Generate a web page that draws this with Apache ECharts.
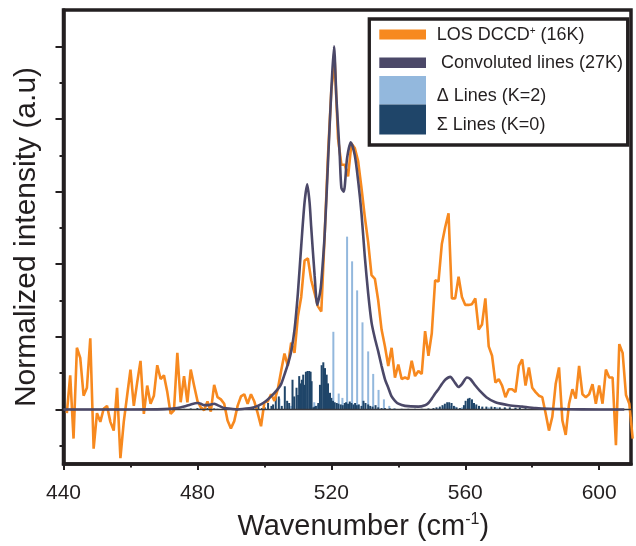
<!DOCTYPE html>
<html><head><meta charset="utf-8">
<script src="https://cdn.jsdelivr.net/npm/echarts@6/dist/echarts.min.js"></script>
<style>html,body{margin:0;padding:0;background:#fff}#c{width:636px;height:546px}</style>
</head><body><div id="c"></div>
<script>
// ---------------- DATA ----------------
const seriesNames = ['LOS DCCD+ (16K)', 'Convoluted lines (27K)', 'Δ Lines (K=2)', 'Σ Lines (K=0)'];
const xTitle = 'Wavenumber (cm-1)';
const yTitle = 'Normalized intensity (a.u)';
const xMajorTicks = [440, 480, 520, 560, 600];
const xMinorTicks = [460, 500, 540, 580];
const yMajorTicks = [0, 1, 2, 3, 4, 5];
const yMinorTicks = [-0.5, 0.5, 1.5, 2.5, 3.5, 4.5];

// LOS DCCD+ spectrum (orange)
const losX = [441,442,443,444,445,446,447,448,449,450,451,452,453,454,455,456,457,458,459,460,
  461,462,463,464,465,466,467,468,469,470,471,472,473,474,475,476,477,478,479,480,
  481,482,483,484,485,486,487,488,489,490,491,492,493,494,495,496,497,498,499,500,
  501,502,503,504,505,506,507,508,509,510,511,512,513,514,515,516,517,518,519,520,
  521,522,523,524,525,526,527,528,529,530,531,532,533,534,535,536,537,538,539,540,
  541,542,543,544,545,546,547,548,549,550,551,552,553,554,555,556,557,558,559,560,
  561,562,563,564,565,566,567,568,569,570,571,572,573,574,575,576,577,578,579,580,
  581,582,583,584,585,586,587,588,589,590,591,592,593,594,595,596,597,598,599,600,
  601,602,603,604,605,606,607,608,609,610];
const losY = [-0.05,0.47,-0.40,0.85,0.71,0.19,0.30,0.98,-0.54,-0.05,-0.17,0.01,0.05,-0.17,-0.29,0.30,-0.67,-0.17,0.19,0.55,
  0.05,0.37,0.67,-0.06,0.33,0.08,0.19,0.61,0.42,0.47,0.24,-0.06,-0.01,0.78,0.10,0.46,0.10,0.55,0.33,0.12,
  0.03,-0.01,0.11,-0.03,0.34,0.17,0.14,0.08,-0.15,-0.26,-0.16,0.05,0.18,0.21,0.08,0.21,0.11,-0.05,-0.23,0.10,
  0.11,0.21,0.12,0.28,0.53,0.77,0.60,0.92,0.78,1.28,1.55,2.05,2.08,1.78,1.60,1.42,1.35,2.40,3.50,4.40,
  4.80,3.73,3.37,3.37,3.21,3.66,3.60,3.42,3.05,2.65,2.30,1.85,1.80,1.50,1.10,0.87,0.60,0.85,0.44,0.62,
  0.42,0.44,0.42,0.67,0.46,0.53,0.49,1.08,0.74,1.05,1.78,1.76,2.28,2.51,2.70,1.53,1.53,1.83,1.55,1.44,
  1.44,1.45,1.53,1.10,1.17,1.53,0.87,0.74,0.37,0.42,0.33,0.17,0.28,0.28,0.24,0.60,0.69,0.33,0.58,0.30,
  0.24,0.19,0.17,-0.05,-0.29,-0.10,0.35,0.58,-0.15,-0.35,0.08,0.28,0.15,0.60,0.21,0.17,0.21,0.35,0.08,0.33,
  0.08,0.55,0.44,0.44,-0.49,0.90,0.78,0.20,0.08,-0.40];

// Convoluted lines (dark line)
const convX = [440,450,460,470,474,476,478,480,481,482,483,484,485,486,487,488,490,492,494,496,498,500,502,504,
  505,506,507,508,509,510,511,512,512.8,513.5,514,515,515.8,516.6,517,518,519,520,520.8,521.5,522,522.5,523,523.7,
  524.7,525.8,527,528,529,530,531,532,533,534,535,536,537,538,539,540,542,546,548,549,550,551,552,553,
  554,555.5,556.9,558,559,560.5,561.5,563,564.3,566.3,569,573,577,581,585,590,600,607.5];
const convY = [0,0,0,0.005,0.02,0.04,0.07,0.09,0.08,0.06,0.06,0.07,0.08,0.06,0.04,0.02,0.01,0.0,0.01,0.02,0.05,0.10,0.18,0.28,
  0.35,0.48,0.62,0.80,1.10,1.60,2.25,2.85,3.10,2.85,2.50,1.85,1.44,1.60,1.75,2.40,3.40,4.40,5.00,4.30,3.90,3.50,3.05,3.00,
  3.46,3.68,3.50,3.15,2.70,2.10,1.60,1.20,0.98,0.80,0.60,0.42,0.30,0.18,0.12,0.08,0.05,0.04,0.06,0.09,0.15,0.22,0.28,0.35,
  0.41,0.45,0.37,0.31,0.35,0.44,0.42,0.33,0.26,0.17,0.10,0.06,0.04,0.02,0.01,0.005,0,0];

// Δ lines (K=2)
const deltaX = [496,500,504.5,508,512.2,514.9,516,518.5,520.6,522.2,523.3,524.7,526.2,527.7,529.3,531.0,532.5,534.1,535.7,537.3,
  538.8,552.0,553.6,555.5,557,559,561,563,565,567,569.5,572,575];
const deltaY = [0.02,0.03,0.15,0.05,0.06,0.10,0.06,0.10,1.07,0.22,0.16,2.38,2.04,1.64,1.20,0.80,0.49,0.27,0.14,0.05,
  0.02,0.02,0.04,0.05,0.04,0.03,0.05,0.04,0.03,0.03,0.03,0.02,0.02];

// Σ lines (K=0)
const sigmaX = [476,478,480,481,482,483,484,485,486,488,490,492,494,496.7,498.2,499.3,500.1,501.1,502.1,502.6,
  503.4,504.3,505.2,506.1,506.8,507.4,508.4,508.9,509.6,510.1,510.4,510.8,511.2,511.6,511.9,512.4,512.9,513.4,513.8,514.1,
  514.6,515.0,515.4,516.1,516.6,517.1,517.6,518.1,518.6,519.0,519.6,520.0,520.5,521.0,521.6,522.1,522.8,523.4,524.0,524.4,
  525.0,525.5,526.0,526.6,527.1,527.6,528.2,529.0,529.6,530.2,531.0,531.6,532.3,533.2,534.0,535.0,536.0,537.5,539,541,
  543,545,547,549,550.5,551.4,552.4,553.2,553.9,554.6,555.2,555.9,556.6,557.4,558.4,559.6,560.1,560.8,561.3,562.0,
  562.6,563.3,564.1,565.1,566.3,567.8,568.8,570.3,571.8,573.3,575,576.3,578,580];
const sigmaY = [0.01,0.015,0.02,0.02,0.015,0.02,0.02,0.015,0.01,0.01,0.01,0.01,0.01,0.02,0.05,0.02,0.03,0.09,0.05,0.07,
  0.18,0.18,0.05,0.32,0.12,0.09,0.41,0.18,0.30,0.20,0.46,0.36,0.41,0.48,0.34,0.52,0.53,0.53,0.52,0.39,
  0.03,0.04,0.05,0.09,0.34,0.61,0.65,0.57,0.48,0.36,0.23,0.16,0.12,0.10,0.09,0.08,0.07,0.06,0.09,0.10,
  0.08,0.11,0.09,0.07,0.09,0.06,0.07,0.05,0.12,0.09,0.07,0.05,0.04,0.06,0.03,0.02,0.02,0.015,0.01,0.01,
  0.01,0.01,0.01,0.015,0.02,0.03,0.04,0.06,0.08,0.10,0.10,0.09,0.05,0.03,0.02,0.06,0.12,0.15,0.16,0.14,
  0.09,0.07,0.05,0.04,0.04,0.04,0.035,0.03,0.03,0.03,0.025,0.03,0.02,0.015];

// ---------------- STYLE ----------------
const INK = '#231f20';
const ORANGE = '#f7891f';
const CONV = '#4b4868';
const LIGHT = '#93b8dd';
const DARK = '#1f4569';
const FONT = '"Liberation Sans", Arial, Helvetica, sans-serif';

const zip = (xs, ys) => xs.map((x, i) => [x, ys[i]]);

const chart = echarts.init(document.getElementById('c'), null, {renderer: 'canvas'});

const legendTexts = [
  '{a|LOS DCCD}{s|+}{a| (16K)}',
  '{a|' + seriesNames[1] + '}',
  '{a|' + seriesNames[2] + '}',
  '{a|' + seriesNames[3] + '}'
];
const richLeg = {
  a: {fontSize: 18, fontFamily: FONT, fill: INK, color: INK},
  s: {fontSize: 10, fontFamily: FONT, fill: INK, color: INK, verticalAlign: 'top'}
};

const option = {
  animation: false,
  backgroundColor: '#ffffff',
  grid: {left: 63.5, right: 5, top: 10, bottom: 76.7, show: true, borderColor: INK, borderWidth: 3.5, backgroundColor: 'transparent'},
  xAxis: [{
    type: 'value', min: 440, max: 609.5, position: 'bottom',
    axisLine: {show: true, onZero: false, lineStyle: {color: INK, width: 3.5}},
    axisTick: {show: true, customValues: xMajorTicks, length: 6, lineStyle: {color: INK, width: 2}},
    axisLabel: {show: true, customValues: xMajorTicks, fontSize: 21, color: INK, fontFamily: FONT, margin: 19},
    splitLine: {show: false},
    name: '{a|Wavenumber (cm}{s|-1}{a|)}',
    nameLocation: 'middle', nameGap: 48,
    nameTextStyle: {
      padding: [0, 0, 0, 32],
      rich: {
        a: {fontSize: 29, fontFamily: FONT, color: INK},
        s: {fontSize: 16, fontFamily: FONT, color: INK, verticalAlign: 'top'}
      }
    }
  }, {
    type: 'value', min: 440, max: 609.5, position: 'bottom',
    axisLine: {show: false, onZero: false},
    axisTick: {show: true, customValues: xMinorTicks, length: 3.5, lineStyle: {color: INK, width: 2}},
    axisLabel: {show: false},
    splitLine: {show: false}
  }],
  yAxis: [{
    type: 'value', min: -0.75, max: 5.5, position: 'left',
    axisLine: {show: true, onZero: false, lineStyle: {color: INK, width: 3.5}},
    axisTick: {show: true, customValues: yMajorTicks, length: 8, lineStyle: {color: INK, width: 2}},
    axisLabel: {show: false},
    splitLine: {show: false},
    name: yTitle, nameLocation: 'middle', nameGap: 22,
    nameTextStyle: {fontSize: 30, fontFamily: FONT, color: INK}
  }, {
    type: 'value', min: -0.75, max: 5.5, position: 'left',
    axisLine: {show: false, onZero: false},
    axisTick: {show: true, customValues: yMinorTicks, length: 4, lineStyle: {color: INK, width: 2}},
    axisLabel: {show: false},
    splitLine: {show: false}
  }],
  series: [
    {
      name: seriesNames[2], type: 'bar', data: zip(deltaX, deltaY), barWidth: 2, barGap: '-100%',
      itemStyle: {color: LIGHT}, z: 2
    },
    {
      name: seriesNames[3], type: 'bar', data: zip(sigmaX, sigmaY), barWidth: 2, barGap: '-100%',
      itemStyle: {color: DARK}, z: 3
    },
    {
      name: seriesNames[0], type: 'line', data: zip(losX, losY), showSymbol: false, symbol: 'none',
      lineStyle: {color: ORANGE, width: 2.6}, z: 4
    },
    {
      name: seriesNames[1], type: 'line', data: zip(convX, convY), showSymbol: false, symbol: 'none', smooth: 0.25,
      lineStyle: {color: CONV, width: 2.6}, z: 5,
      markLine: {
        silent: true, symbol: ['none', 'none'], label: {show: false},
        lineStyle: {color: '#3a3a3f', width: 1.3, type: 'solid'},
        data: [{yAxis: 0}]
      }
    }
  ],
  graphic: [
    {type: 'rect', z: 100, shape: {x: 369.3, y: 19, width: 258.4, height: 126}, style: {fill: '#ffffff', stroke: INK, lineWidth: 3.3}},
    {type: 'rect', z: 101, shape: {x: 379.3, y: 29.5, width: 46.7, height: 10}, style: {fill: ORANGE}},
    {type: 'rect', z: 101, shape: {x: 379.3, y: 57.5, width: 46.7, height: 10.5}, style: {fill: CONV}},
    {type: 'rect', z: 101, shape: {x: 379.3, y: 76, width: 46.7, height: 28.6}, style: {fill: LIGHT}},
    {type: 'rect', z: 101, shape: {x: 379.3, y: 104.6, width: 46.7, height: 30}, style: {fill: DARK}},
    {type: 'text', z: 102, x: 436.7, y: 35, style: {text: legendTexts[0], rich: richLeg, verticalAlign: 'middle', fill: INK}},
    {type: 'text', z: 102, x: 441, y: 63.3, style: {text: legendTexts[1], rich: richLeg, verticalAlign: 'middle', fill: INK}},
    {type: 'text', z: 102, x: 436.7, y: 95.7, style: {text: legendTexts[2], rich: richLeg, verticalAlign: 'middle', fill: INK}},
    {type: 'text', z: 102, x: 436.7, y: 125, style: {text: legendTexts[3], rich: richLeg, verticalAlign: 'middle', fill: INK}}
  ]
};
chart.setOption(option);
</script></body></html>
